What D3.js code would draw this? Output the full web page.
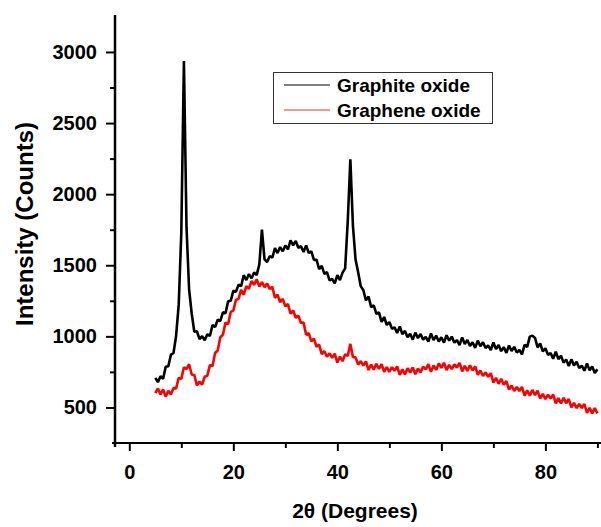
<!DOCTYPE html>
<html>
<head>
<meta charset="utf-8">
<script src="https://cdn.jsdelivr.net/npm/d3@7"></script>
<style>
  body { margin: 0; background: #fff; }
  svg { display: block; font-family: Arial, "Liberation Sans", sans-serif; }
</style>
</head>
<body>
<div id="chart"></div>
<script>
// scan grid: 5 to 90 deg, 0.5 deg step
const twoTheta = d3.range(5, 90.25, 0.5)

const graphiteOxide = [
  708, 678, 719, 702, 786, 790, 871, 883, 1004, 1223, 1730, 2936,
  1768, 1328, 1159, 1032, 1036, 980, 1001, 973, 1014, 1003, 1080, 1066,
  1118, 1108, 1169, 1162, 1246, 1250, 1321, 1313, 1364, 1353, 1430, 1396,
  1438, 1408, 1449, 1432, 1506, 1750, 1541, 1523, 1564, 1553, 1620, 1586,
  1628, 1598, 1639, 1612, 1676, 1640, 1671, 1623, 1634, 1593, 1640, 1586,
  1598, 1538, 1539, 1472, 1496, 1440, 1451, 1393, 1404, 1373, 1430, 1396,
  1448, 1478, 1809, 2245, 1776, 1540, 1451, 1353, 1324, 1253, 1280, 1206,
  1218, 1158, 1169, 1102, 1136, 1080, 1101, 1053, 1064, 1023, 1070, 1016,
  1038, 993, 1019, 977, 1026, 988, 1017, 977, 996, 963, 1020, 974,
  1005, 964, 994, 956, 1008, 970, 998, 956, 974, 939, 993, 946,
  975, 932, 959, 919, 970, 931, 959, 918, 936, 903, 957, 910,
  939, 896, 924, 884, 936, 897, 926, 886, 904, 873, 940, 926,
  998, 1005, 989, 922, 951, 895, 916, 870, 883, 843, 892, 840,
  863, 815, 837, 792, 838, 796, 821, 778, 794, 758, 810, 761,
  788, 743, 769
]

const grapheneOxide = [
  600, 634, 592, 627, 575, 617, 591, 636, 634, 708, 701, 783,
  770, 804, 732, 727, 655, 682, 661, 716, 724, 798, 791, 883,
  900, 994, 1012, 1097, 1085, 1172, 1181, 1256, 1264, 1328, 1291, 1353,
  1335, 1389, 1362, 1402, 1350, 1382, 1346, 1371, 1334, 1348, 1271, 1293,
  1240, 1264, 1212, 1227, 1160, 1182, 1131, 1146, 1094, 1098, 1011, 1023,
  965, 984, 927, 942, 875, 897, 856, 881, 849, 878, 816, 858,
  825, 874, 862, 947, 855, 852, 801, 826, 794, 824, 763, 802,
  766, 807, 772, 805, 750, 784, 751, 783, 758, 789, 729, 768,
  732, 776, 745, 782, 733, 774, 747, 786, 768, 805, 751, 795,
  764, 809, 778, 814, 763, 800, 769, 803, 780, 813, 754, 793,
  757, 797, 760, 789, 730, 760, 721, 747, 716, 741, 675, 708,
  666, 701, 660, 686, 625, 654, 616, 644, 616, 645, 583, 620,
  583, 623, 587, 618, 562, 595, 559, 589, 562, 591, 529, 566,
  528, 567, 530, 559, 501, 532, 495, 524, 496, 524, 461, 497,
  458, 496, 458
]

const seriesNames = ['Graphite oxide', 'Graphene oxide']
const seriesColors = ['#000000', '#ff0000']
const legendColors = ['#000000', '#e8332f']

const yMajor = [500, 1000, 1500, 2000, 2500, 3000]
const yMinor = [750, 1250, 1750, 2250, 2750]
const xMajor = [0, 20, 40, 60, 80]
const xMinor = [10, 30, 50, 70, 90]

const width = 601, height = 527

const svg = d3.select('#chart').append('svg')
  .attr('width', width)
  .attr('height', height)

svg.append('rect').attr('width', width).attr('height', height).attr('fill', '#fff')

const x = d3.scaleLinear().domain([-2.75, 90.5]).range([115, 600])
const y = d3.scaleLinear().domain([250, 3260]).range([443, 15])

// data lines (black first, red drawn on top)
const line = d3.line()
  .x((d, i) => x(twoTheta[i]))
  .y(d => y(d))

const allSeries = [graphiteOxide, grapheneOxide]
allSeries.forEach((s, k) => {
  svg.append('path')
    .datum(s)
    .attr('d', line)
    .attr('fill', 'none')
    .attr('stroke', seriesColors[k])
    .attr('stroke-width', 2.6)
    .attr('stroke-linejoin', 'bevel')
})

// axes
const yAxis = svg.append('g').attr('transform', 'translate(115,0)')
  .call(d3.axisLeft(y).tickValues(yMajor).tickSize(9).tickPadding(9).tickFormat(d3.format('d')))
yAxis.append('g')
  .call(d3.axisLeft(y).tickValues(yMinor).tickSize(5).tickFormat(''))

const xAxis = svg.append('g').attr('transform', 'translate(0,443)')
  .call(d3.axisBottom(x).tickValues(xMajor).tickSize(8).tickPadding(14).tickFormat(d3.format('d')))
xAxis.append('g')
  .call(d3.axisBottom(x).tickValues(xMinor).tickSize(5).tickFormat(''))

svg.selectAll('.domain').remove()
svg.selectAll('.tick line').attr('stroke', '#000').attr('stroke-width', 2)
svg.selectAll('.tick text')
  .attr('fill', '#000')
  .style('font-size', '20px')
  .style('font-weight', 'bold')

// axis lines
svg.append('line')
  .attr('x1', 115).attr('x2', 115).attr('y1', 15).attr('y2', 447)
  .attr('stroke', '#000').attr('stroke-width', 2.5)
svg.append('line')
  .attr('x1', 112).attr('x2', 601).attr('y1', 443).attr('y2', 443)
  .attr('stroke', '#000').attr('stroke-width', 2.2)

// axis titles
svg.append('text')
  .attr('x', 355).attr('y', 518)
  .attr('text-anchor', 'middle')
  .style('font-size', '21px').style('font-weight', 'bold')
  .text('2θ (Degrees)')

svg.append('text')
  .attr('transform', 'translate(33,224) rotate(-90)')
  .attr('text-anchor', 'middle')
  .style('font-size', '24px').style('font-weight', 'bold')
  .text('Intensity (Counts)')

// legend
const legend = svg.append('g')
legend.append('rect')
  .attr('x', 273.5).attr('y', 72.5).attr('width', 219).attr('height', 51)
  .attr('fill', '#fff').attr('stroke', '#333').attr('stroke-width', 1)

seriesNames.forEach((name, k) => {
  const ly = 85 + k * 25
  legend.append('line')
    .attr('x1', 284).attr('x2', 330).attr('y1', ly).attr('y2', ly)
    .attr('stroke', legendColors[k]).attr('stroke-width', 1.2)
  legend.append('text')
    .attr('x', 337).attr('y', ly + 7)
    .style('font-size', '19px').style('font-weight', 'bold')
    .text(name)
})
</script>
</body>
</html>
